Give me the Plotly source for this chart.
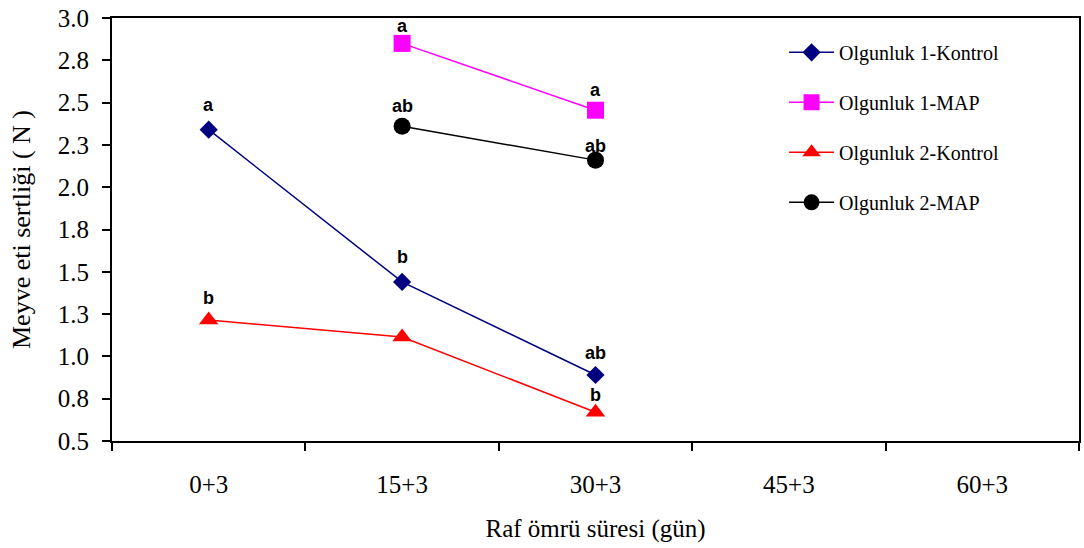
import plotly.graph_objects as go

categories = ["0+3", "15+3", "30+3", "45+3", "60+3"]

o1_kontrol_x = ["0+3", "15+3", "30+3"]
o1_kontrol_y = [2.34, 1.44, 0.89]
o1_kontrol_lbl = ["a", "b", "ab"]

o1_map_x = ["15+3", "30+3"]
o1_map_y = [2.85, 2.455]
o1_map_lbl = ["a", "a"]

o2_kontrol_x = ["0+3", "15+3", "30+3"]
o2_kontrol_y = [1.215, 1.115, 0.67]
o2_kontrol_lbl = ["b", "", "b"]

o2_map_x = ["15+3", "30+3"]
o2_map_y = [2.36, 2.16]
o2_map_lbl = ["ab", "ab"]

y_tickvals = [0.5, 0.75, 1.0, 1.25, 1.5, 1.75, 2.0, 2.25, 2.5, 2.75, 3.0]
y_ticktext = ["0.5", "0.8", "1.0", "1.3", "1.5", "1.8", "2.0", "2.3", "2.5", "2.8", "3.0"]

series = [
    ("Olgunluk 1-Kontrol", o1_kontrol_x, o1_kontrol_y, o1_kontrol_lbl, "#000080", "diamond", 14, [25, 25, 22]),
    ("Olgunluk 1-MAP", o1_map_x, o1_map_y, o1_map_lbl, "#FF00FF", "square", 17, [17, 20]),
    ("Olgunluk 2-Kontrol", o2_kontrol_x, o2_kontrol_y, o2_kontrol_lbl, "#FF0000", "triangle-up", 17, [22, 0, 17]),
    ("Olgunluk 2-MAP", o2_map_x, o2_map_y, o2_map_lbl, "#000000", "circle", 17, [20, 14]),
]

fig = go.Figure()
annotations = []
for i, (name, xs, ys, lbls, color, sym, size, shifts) in enumerate(series):
    fig.add_trace(go.Scatter(
        x=xs, y=ys, name=name, mode="lines+markers",
        line=dict(color=color, width=1.5),
        marker=dict(symbol=sym, size=size, color=color),
        legendgroup=str(i),
    ))
    for x, y, t, s in zip(xs, ys, lbls, shifts):
        if t:
            annotations.append(dict(
                x=x, y=y, text="<b>%s</b>" % t, showarrow=False,
                yshift=s, xref="x", yref="y",
                font=dict(family="Liberation Sans, Arial", size=18, color="black"),
            ))

serif = "Liberation Serif, Times New Roman"

fig.update_layout(
    width=1084, height=548,
    margin=dict(l=112, r=5, t=18, b=107),
    paper_bgcolor="white", plot_bgcolor="white",
    font=dict(family=serif, size=25, color="black"),
    showlegend=True,
    legend=dict(
        x=0.695, y=0.965, xanchor="left", yanchor="top",
        font=dict(family=serif, size=20, color="black"),
        traceorder="grouped", tracegroupgap=21,
        bgcolor="rgba(0,0,0,0)", itemwidth=45,
    ),
    annotations=annotations,
    xaxis=dict(
        type="category", categoryorder="array", categoryarray=categories,
        tickvals=categories, range=[-0.5, 4.5],
        tickson="boundaries", ticks="outside", ticklen=8, tickwidth=1.5, tickcolor="black",
        showline=True, linecolor="black", linewidth=2, mirror=True,
        showgrid=False, zeroline=False, automargin=False,
        ticklabelstandoff=20, ticklabeloverflow="allow",
        title=dict(text="Raf ömrü süresi (gün)", standoff=22, font=dict(family=serif, size=25)),
    ),
    yaxis=dict(
        range=[0.5, 3.0], tickvals=y_tickvals, ticktext=y_ticktext,
        ticks="outside", ticklen=8, tickwidth=1.5, tickcolor="black",
        showline=True, linecolor="black", linewidth=2, mirror=True,
        showgrid=False, zeroline=False, automargin=False,
        ticklabelstandoff=8, ticklabeloverflow="allow",
        title=dict(text="Meyve eti sertliği ( N )", standoff=20, font=dict(family=serif, size=26)),
    ),
)

fig.write_html(
    "out.html",
    config={"displayModeBar": False},
    post_script="document.body.style.margin='0';",
)
